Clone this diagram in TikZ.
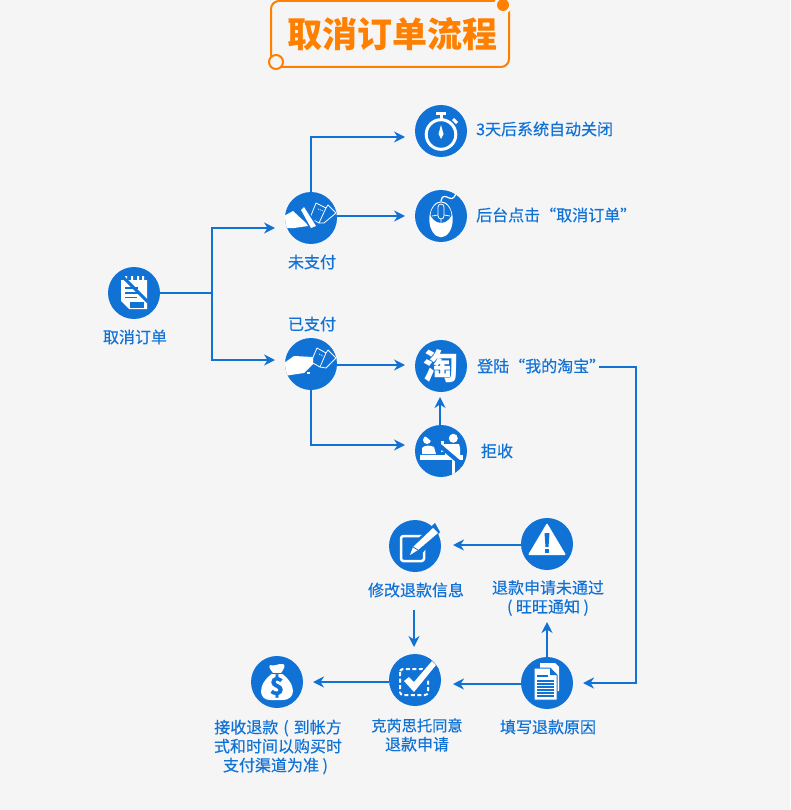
\documentclass[tikz,border=0pt]{standalone}
\usepackage{fontspec}
\setmainfont[FakeBold=0.35]{Noto Sans CJK SC}
\newfontfamily\titlefont{Noto Sans CJK SC}
\usetikzlibrary{arrows.meta}
\definecolor{flowblue}{HTML}{1172D6}
\definecolor{titleorange}{HTML}{FF8000}
\definecolor{pagegray}{HTML}{F5F5F5}
\tikzset{
  iconball/.style={circle,fill=flowblue,minimum size=52pt,inner sep=0pt},
  steplabel/.style={color=flowblue,font=\fontsize{16pt}{19pt}\selectfont,align=center,inner sep=0pt},
  flowline/.style={draw=flowblue,line width=2.2pt},
  flowarrow/.style={flowline,-{Stealth[length=11pt,width=11pt]}},
}
\begin{document}
\begin{tikzpicture}[x=1pt,y=-1pt]
    \useasboundingbox (0,0) rectangle (790,810);
    \path [fill=pagegray] (0,0) rectangle (790,810);

    % title
    \draw [color=titleorange,line width=2pt,rounded corners=8pt] (271,1) rectangle (509,67);
    \path [fill=pagegray] (503,5) circle (9);
    \path [fill=titleorange] (503,5) circle (6);
    \draw [color=titleorange,fill=pagegray,line width=2pt] (276,62) circle (7);
    \node (title) [color=titleorange,font=\titlefont\bfseries\fontsize{35pt}{40pt}\selectfont,inner sep=0pt] at (392.5,34) {取消订单流程};

    % circles
    \node (cancel) [iconball] at (134,293) {};
    \node (unpaid) [iconball] at (311,218) {};
    \node (paid) [iconball] at (311,364) {};
    \node (timer) [iconball] at (441,131) {};
    \node (mouse) [iconball] at (441,216) {};
    \node (taobao) [iconball] at (441,366) {};
    \node (reject) [iconball] at (441,451) {};
    \node (edit) [iconball] at (415,546) {};
    \node (warn) [iconball] at (547,544) {};
    \node (reason) [iconball] at (547,683) {};
    \node (agree) [iconball] at (415,680) {};
    \node (refund) [iconball] at (277,682) {};

    % labels
    \node (cancellabel) [steplabel] at (135,337) {取消订单};
    \node (unpaidlabel) [steplabel] at (312,262) {未支付};
    \node (paidlabel) [steplabel] at (312,324) {已支付};
    \node (timerlabel) [steplabel,anchor=west] at (476,129) {3天后系统自动关闭};
    \node (mouselabel) [steplabel,anchor=west] at (476,215) {后台点击“取消订单”};
    \node (taobaolabel) [steplabel,anchor=west] at (477,366) {登陆“我的淘宝”};
    \node (rejectlabel) [steplabel] at (497,451) {拒收};
    \node (editlabel) [steplabel] at (416,590) {修改退款信息};
    \node (warnlabel) [steplabel] at (548,598) {退款申请未通过\\( 旺旺通知 )};
    \node (reasonlabel) [steplabel] at (548,727) {填写退款原因};
    \node (agreelabel) [steplabel] at (417,735) {{\fontsize{15.2pt}{19pt}\selectfont 克芮思托同意}\\退款申请};
    \node (refundlabel) [steplabel] at (278,747) {接收退款\hspace{5pt}(\hspace{5pt}到帐方\\式和时间以购买时\\支付渠道为准 )\hspace*{5pt}};

    % connectors
    \coordinate (fork) at (212,293);
    \coordinate (forkup) at (275,228);
    \coordinate (forkdown) at (275,360);
    \coordinate (timerin) at (405,137);
    \coordinate (mousein) at (405,216);
    \coordinate (taobaoin) at (405,365);
    \coordinate (rejectin) at (405,445);
    \coordinate (railtail) at (599,367);
    \coordinate (railtop) at (636,367);
    \coordinate (reasonin) at (583,683);
    \coordinate (editin) at (453,545);
    \coordinate (warnin) at (547,622);
    \coordinate (agreein) at (453,684);
    \coordinate (refundin) at (313,682);
    \coordinate (agreetop) at (414,647);
    \coordinate (taobaotail) at (440,397);
    \coordinate (edittail) at (414,610);

    \draw [flowline] (cancel.east) -- (fork);
    \draw [flowarrow] (fork) |- (forkup);
    \draw [flowarrow] (fork) |- (forkdown);
    \draw [flowarrow] (unpaid.north) |- (timerin);
    \draw [flowarrow] (unpaid.east |- mousein) -- (mousein);
    \draw [flowarrow] (paid.east |- taobaoin) -- (taobaoin);
    \draw [flowarrow] (paid.south) |- (rejectin);
    \draw [flowarrow] (reject.north -| taobaotail) -- (taobaotail);
    \draw [flowarrow] (railtail) -- (railtop) |- (reasonin);
    \draw [flowarrow] (warn.west |- editin) -- (editin);
    \draw [flowarrow] (reason.north) -- (warnin);
    \draw [flowarrow] (edittail) -- (agreetop);
    \draw [flowarrow] (reason.west |- agreein) -- (agreein);
    \draw [flowarrow] (agree.west |- refundin) -- (refundin);

    % notepad
    \begin{scope}[shift={(cancel.center)}]
    \path [fill=white] (-13,-13) -- (-9,-13) -- (-9,-17) -- (-7,-17) -- (-7,-13) -- (-3,-13) -- (-3,-17) -- (-1,-17) -- (-1,-13) -- (3,-13) -- (3,-17) -- (5,-17) -- (5,-13) -- (8,-13) -- (8,-17) -- (10,-17) -- (10,-13) -- (13,-13) -- (13,16) -- (-5,16) -- (-13,8) -- cycle;
    \draw [color=flowblue,line width=1.5pt] (-9,-5) -- (4,-5) (-9,0) -- (4,0) (-9,4.5) -- (3,4.5);
    \draw [color=flowblue,line width=3pt] (-13,-18) -- (14,9);
    \path [fill=flowblue] (-4,9) rectangle (10,14.5);
    \end{scope}

    % hand with cards, struck through
    \begin{scope}[shift={(unpaid.center)}]
    \clip (0,0) circle (26);
    \path [fill=white] (-27,-2) -- (-18,-7) -- (-5,5) -- (-3,8) -- (-17,10) -- (-27,10) -- cycle;
    \draw [color=white,line width=.8pt,line join=round] (15,-10) -- (17,-13) -- (25,-5) -- (13,5) -- (8,5);
    \draw [color=white,line width=.8pt,line join=round] (5,-15) -- (15,-10) -- (8,5) -- (-1,0) -- cycle;
    \draw [color=white,line width=.8pt,dash pattern=on 1pt off 1pt] (7,-9) -- (12,-7);
    \path [fill=flowblue] (-11,-8) -- (-7,-13) -- (8,9) -- (1,13) -- cycle;
    \path [fill=white] (-10,-8) -- (-7,-11) -- (5,8) -- (0,10) -- cycle;
    \end{scope}

    % hand with cards
    \begin{scope}[shift={(paid.center)}]
    \clip (0,0) circle (26);
    \path [fill=white] (-27,-1) -- (-17,-8) -- (2,-7) -- (2,0) -- (-5,7) -- (-7,9) -- (-27,12) -- cycle;
    \path [fill=white] (-4,8) rectangle (-1,10);
    \draw [color=white,line width=.8pt,line join=round] (15,-11) -- (17,-14) -- (25,-6) -- (15,4) -- (9,3);
    \draw [color=white,line width=.8pt,line join=round] (6,-16) -- (15,-11) -- (9,3) -- (0,-2) -- cycle;
    \draw [color=white,line width=.8pt,dash pattern=on 1pt off 1pt] (8,-10) -- (12,-8);
    \end{scope}

    % stopwatch
    \begin{scope}[shift={(timer.center)}]
    \draw [color=white,line width=3pt] (0,3.5) circle (14.8);
    \path [fill=white] (-1.5,-16) rectangle (1.5,-10);
    \path [fill=white] (-5,-19) rectangle (5,-16);
    \draw [color=white,line width=3pt] (12,-12) -- (16,-8);
    \path [fill=white] (0,-6) -- (2.5,3) -- (0,8) -- (-2.5,3) -- cycle;
    \end{scope}

    % mouse
    \begin{scope}[shift={(mouse.center)}]
    \draw [color=white,line width=1.2pt] (0,-15) .. controls (1,-20) and (3,-20) .. (6,-19) .. controls (10,-17) and (12,-16) .. (15,-22);
    \path [fill=white] (0,3.3) ellipse (11.7 and 18);
    \path [fill=flowblue] (-10.5,-1) .. controls (-9.5,-9) and (-5,-13) .. (0,-13.5) .. controls (5,-13) and (9.5,-9) .. (10.5,-1) .. controls (10,1) and (6,7) .. (0,7) .. controls (-6,7) and (-10,1) .. (-10.5,-1) -- cycle;
    \draw [color=white,line width=.8pt,rounded corners=3pt] (-3,-12) rectangle (3,3);
    \draw [color=white,line width=.8pt] (-3,-1) -- (-9,0) (3,-1) -- (9,0) (0,3) -- (0,7);
    \end{scope}

    % taobao
    \node (taobaomark) [color=white,font=\titlefont\bfseries\fontsize{35pt}{40pt}\selectfont,inner sep=0pt] at (441,366) {淘};

    % forbidden counter
    \begin{scope}[shift={(reject.center)}]
    \clip (0,0) circle (26);
    \path [fill=white] (-14,-11) circle (4);
    \path [fill=white] (-19,3) -- (-19,-3) .. controls (-17,-6) and (-10,-6) .. (-7,-4) -- (-5,3) -- cycle;
    \path [fill=white] (-21,4) rectangle (22,8.5);
    \path [fill=white] (0,-10) rectangle (3,-5);
    \path [fill=white] (12.3,-12.7) circle (4.5);
    \path [fill=white] (3,-7) -- (18,-7) -- (19,-3) -- (19,4) -- (4,4) -- (4,0) -- (0,1) -- cycle;
    \path [fill=white] (11,8) rectangle (14,24);
    \draw [color=flowblue,line width=4pt] (-15,-17) -- (25,17);
    \end{scope}

    % pencil and box
    \begin{scope}[shift={(edit.center)}]
    \draw [color=white,line width=2.5pt,rounded corners=2.5pt] (-14,-10) rectangle (9,15);
    \path [fill=flowblue] (-2,-3) -- (20,-23) -- (25,-14) -- (5,10) -- cycle;
    \path [fill=white] (18,-18) -- (23,-13) -- (3,4) -- (-5,9) -- (-2,1) -- cycle;
    \draw [color=flowblue,line width=.8pt] (-2,1) -- (3,4);
    \end{scope}

    % warning
    \begin{scope}[shift={(warn.center)}]
    \path [fill=white,rounded corners=1pt] (0,-21) -- (19,11) -- (-19,11) -- cycle;
    \path [fill=flowblue] (-2.5,-11) -- (2.5,-11) -- (1.5,3) -- (-1.5,3) -- cycle;
    \path [fill=flowblue] (-2,5) rectangle (2,9);
    \end{scope}

    % papers
    \begin{scope}[shift={(reason.center)}]
    \path [fill=white] (-7,-20) -- (8,-20) -- (12,-16) -- (12,8) -- (-7,8) -- cycle;
    \draw [color=flowblue,line width=1pt,fill=white] (-13,-15) -- (3,-15) -- (10,-8) -- (10,17) -- (-13,17) -- cycle;
    \path [fill=flowblue] (3,-15) -- (10,-8) -- (3,-8) -- cycle;
    \path [fill=flowblue] (-10,-8) rectangle (1,-6);
    \foreach \rowy in {-3,0,3,6,9,12}
        \path [fill=flowblue] (-10,\rowy) rectangle (7,\rowy+1.5);
    \end{scope}

    % dashed box and tick
    \begin{scope}[shift={(agree.center)}]
    \draw [color=white,line width=2pt,dash pattern=on 4pt off 2.5pt,rounded corners=3pt] (-15,-11) rectangle (13,15);
    \path [fill=flowblue] (-9,-1) -- (-3,-7) -- (0,-3) -- (16,-19) -- (24,-11) -- (-1,14) -- cycle;
    \path [fill=white] (-11,1) -- (-6,-3) -- (-1,2) -- (17,-19) -- (21,-15) -- (-1,12) -- cycle;
    \end{scope}

    % money bag
    \begin{scope}[shift={(refund.center)}]
    \path [fill=white] (-7,-17) .. controls (-3,-15) and (2,-19) .. (6,-18) .. controls (9,-17) and (7,-13) .. (4,-9) .. controls (10,-5) and (16,2) .. (16,9) .. controls (16,15) and (11,18) .. (6,18) -- (-7,18) .. controls (-12,18) and (-16,15) .. (-16,9) .. controls (-16,2) and (-10,-5) .. (-4,-9) .. controls (-6,-12) and (-9,-15) .. (-7,-17) -- cycle;
    \draw [color=flowblue,line width=1pt] (-5,-9) -- (5,-9);
    \node (dollar) [color=flowblue,font=\fontsize{24pt}{26pt}\bfseries\selectfont,inner sep=0pt] at (0,4) {\$};
    \end{scope}
\end{tikzpicture}
\end{document}
